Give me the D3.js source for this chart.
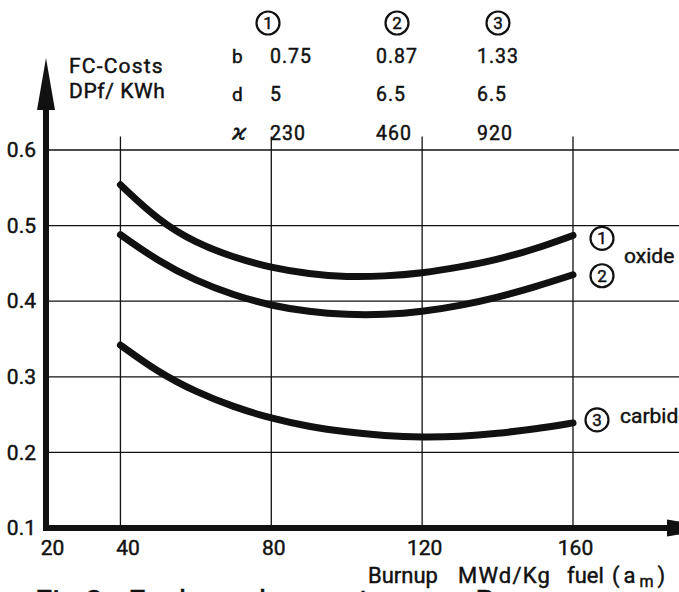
<!DOCTYPE html>
<html>
<head>
<meta charset="utf-8">
<script src="https://cdn.jsdelivr.net/npm/d3@7/dist/d3.min.js"></script>
<style>
  body { margin: 0; background: #fff; }
  svg { display: block; }
  text { font-family: Roboto, "DejaVu Sans", sans-serif; font-weight: 400; fill: #111; stroke: #111; stroke-width: 0.45px; }
</style>
</head>
<body>
<svg id="chart" width="679" height="592"></svg>
<script>
const burnup = [40, 50, 60, 70, 80, 90, 100, 110, 120, 130, 140, 150, 160];

// fuel cycle costs, DPf/KWh
const costOxide1  = [0.554, 0.507, 0.477, 0.458, 0.444, 0.436, 0.432, 0.433, 0.437, 0.445, 0.455, 0.469, 0.487];
const costOxide2  = [0.488, 0.453, 0.427, 0.408, 0.394, 0.386, 0.382, 0.382, 0.386, 0.394, 0.405, 0.419, 0.435];
const costCarbide = [0.342, 0.306, 0.280, 0.260, 0.245, 0.234, 0.227, 0.222, 0.220, 0.221, 0.225, 0.231, 0.239];

// tick labels
const xTicks = [20, 40, 80, 120, 160];
const yTicks = [0.1, 0.2, 0.3, 0.4, 0.5, 0.6];
const xGrid = [40, 80, 120, 160];
const yGrid = [0.2, 0.3, 0.4, 0.5, 0.6];

// parameter table at the top
const caseIds = ['1', '2', '3'];
const paramNames = ['b', 'd', 'ϰ'];
const paramB = ['0.75', '0.87', '1.33'];
const paramD = ['5', '6.5', '6.5'];
const paramK = ['230', '460', '920'];

const curveLabels = [
  { id: '1', text: 'oxide' },
  { id: '2', text: '' },
  { id: '3', text: 'carbide' }
];

const svg = d3.select('#chart');
const ink = '#111';

const x = d3.scaleLinear().domain([20, 160]).range([45, 573]);
const y = d3.scaleLinear().domain([0.1, 0.6]).range([528, 150]);

// grid
svg.append('g').selectAll('line')
  .data(yGrid).enter().append('line')
  .attr('x1', x(20)).attr('x2', 679)
  .attr('y1', d => y(d)).attr('y2', d => y(d))
  .attr('stroke', ink).attr('stroke-width', 1.3);

svg.append('g').selectAll('line')
  .data(xGrid).enter().append('line')
  .attr('x1', d => x(d)).attr('x2', d => x(d))
  .attr('y1', y(0.618)).attr('y2', y(0.1))
  .attr('stroke', ink).attr('stroke-width', 1.3);

// curves
const line = d3.line()
  .x((d, i) => x(burnup[i]))
  .y(d => y(d))
  .curve(d3.curveBasis);

svg.append('g').selectAll('path')
  .data([costOxide1, costOxide2, costCarbide]).enter().append('path')
  .attr('d', line)
  .attr('fill', 'none')
  .attr('stroke', ink)
  .attr('stroke-width', 7)
  .attr('stroke-linecap', 'round');

// thick axes with arrows
svg.append('line')
  .attr('x1', x(20) + 1).attr('x2', x(20) + 1)
  .attr('y1', y(0.1) + 3).attr('y2', 108)
  .attr('stroke', ink).attr('stroke-width', 6);
svg.append('path')
  .attr('d', `M${x(20) - 8},110 L${x(20) + 10},110 L${x(20) + 1},58 Z`)
  .attr('fill', ink);

svg.append('line')
  .attr('x1', x(20) - 2).attr('x2', 670)
  .attr('y1', y(0.1)).attr('y2', y(0.1))
  .attr('stroke', ink).attr('stroke-width', 6);
svg.append('path')
  .attr('d', `M667,${y(0.1) - 8.5} L667,${y(0.1) + 8.5} L719,${y(0.1)} Z`)
  .attr('fill', ink);

// tick labels through d3 axes
const xAxis = svg.append('g')
  .attr('transform', `translate(0,${y(0.1)})`)
  .call(d3.axisBottom(x).tickValues(xTicks).tickSize(0).tickPadding(12).tickFormat(d3.format('d')));
xAxis.select('.domain').remove();
xAxis.selectAll('text')
  .attr('font-size', 21).attr('font-family', null).attr('fill', ink)
  .attr('dx', d => d <= 40 ? 7 : 2);

const yAxis = svg.append('g')
  .attr('transform', `translate(${x(20)},0)`)
  .call(d3.axisLeft(y).tickValues(yTicks).tickSize(0).tickPadding(9).tickFormat(d3.format('.1f')));
yAxis.select('.domain').remove();
yAxis.selectAll('text')
  .attr('font-size', 21).attr('font-family', null).attr('fill', ink);

// axis titles
svg.append('text').attr('x', 69).attr('y', 73)
  .attr('font-size', 21).attr('letter-spacing', 1.2).text('FC-Costs');
svg.append('text').attr('x', 69).attr('y', 98)
  .attr('font-size', 21).attr('letter-spacing', 0.6).text('DPf/ KWh');

// x title, word by word as spaced in the figure
svg.append('text').attr('x', 368).attr('y', 583).attr('font-size', 22).text('Burnup');
svg.append('text').attr('x', 458).attr('y', 583).attr('font-size', 22).attr('letter-spacing', 1.2).text('MWd/Kg');
svg.append('text').attr('x', 567).attr('y', 583).attr('font-size', 22).text('fuel');
svg.append('text').attr('x', 612).attr('y', 583).attr('font-size', 22).attr('letter-spacing', 4)
  .html('(a<tspan font-size="16" dy="4">m</tspan><tspan dy="-4">)</tspan>');

// caption, cut off by the bottom edge
svg.append('text').attr('x', 35).attr('y', 612)
  .attr('font-size', 31).attr('word-spacing', 18)
  .text('Fig.2 Fuel cycle costs vs. Burnup');

// numbered circle marker
function circled(cx, cy, label) {
  svg.append('circle').attr('cx', cx).attr('cy', cy).attr('r', 11.5)
    .attr('fill', 'none').attr('stroke', ink).attr('stroke-width', 2.2);
  svg.append('text').attr('x', cx).attr('y', cy + 6)
    .attr('text-anchor', 'middle').attr('font-size', 17).attr('font-weight', 700).text(label);
}

// parameter table
const colX = [270, 376, 477];
const headX = [268, 397, 498];
const rowY = [63, 101, 140];

caseIds.forEach((c, i) => circled(headX[i], 23, c));
paramNames.forEach((p, r) => {
  svg.append('text').attr('x', 232).attr('y', rowY[r])
    .attr('font-size', p === 'ϰ' ? 22 : 19).attr('font-style', p === 'ϰ' ? 'italic' : null).text(p);
});
[paramB, paramD, paramK].forEach((row, r) => {
  row.forEach((v, i) => {
    svg.append('text').attr('x', colX[i]).attr('y', rowY[r])
      .attr('font-size', 19.5).attr('letter-spacing', 1).text(v);
  });
});

// labels at the right end of the curves
const endY = [costOxide1, costOxide2, costCarbide].map(s => y(s[s.length - 1]));
circled(602, endY[0] + 3, curveLabels[0].id);
circled(602, endY[1] + 1, curveLabels[1].id);
circled(597, endY[2] - 3, curveLabels[2].id);
svg.append('text').attr('x', 624).attr('y', 263).attr('font-size', 21).text(curveLabels[0].text);
svg.append('text').attr('x', 620).attr('y', 423).attr('font-size', 21).text(curveLabels[2].text);
</script>
</body>
</html>
